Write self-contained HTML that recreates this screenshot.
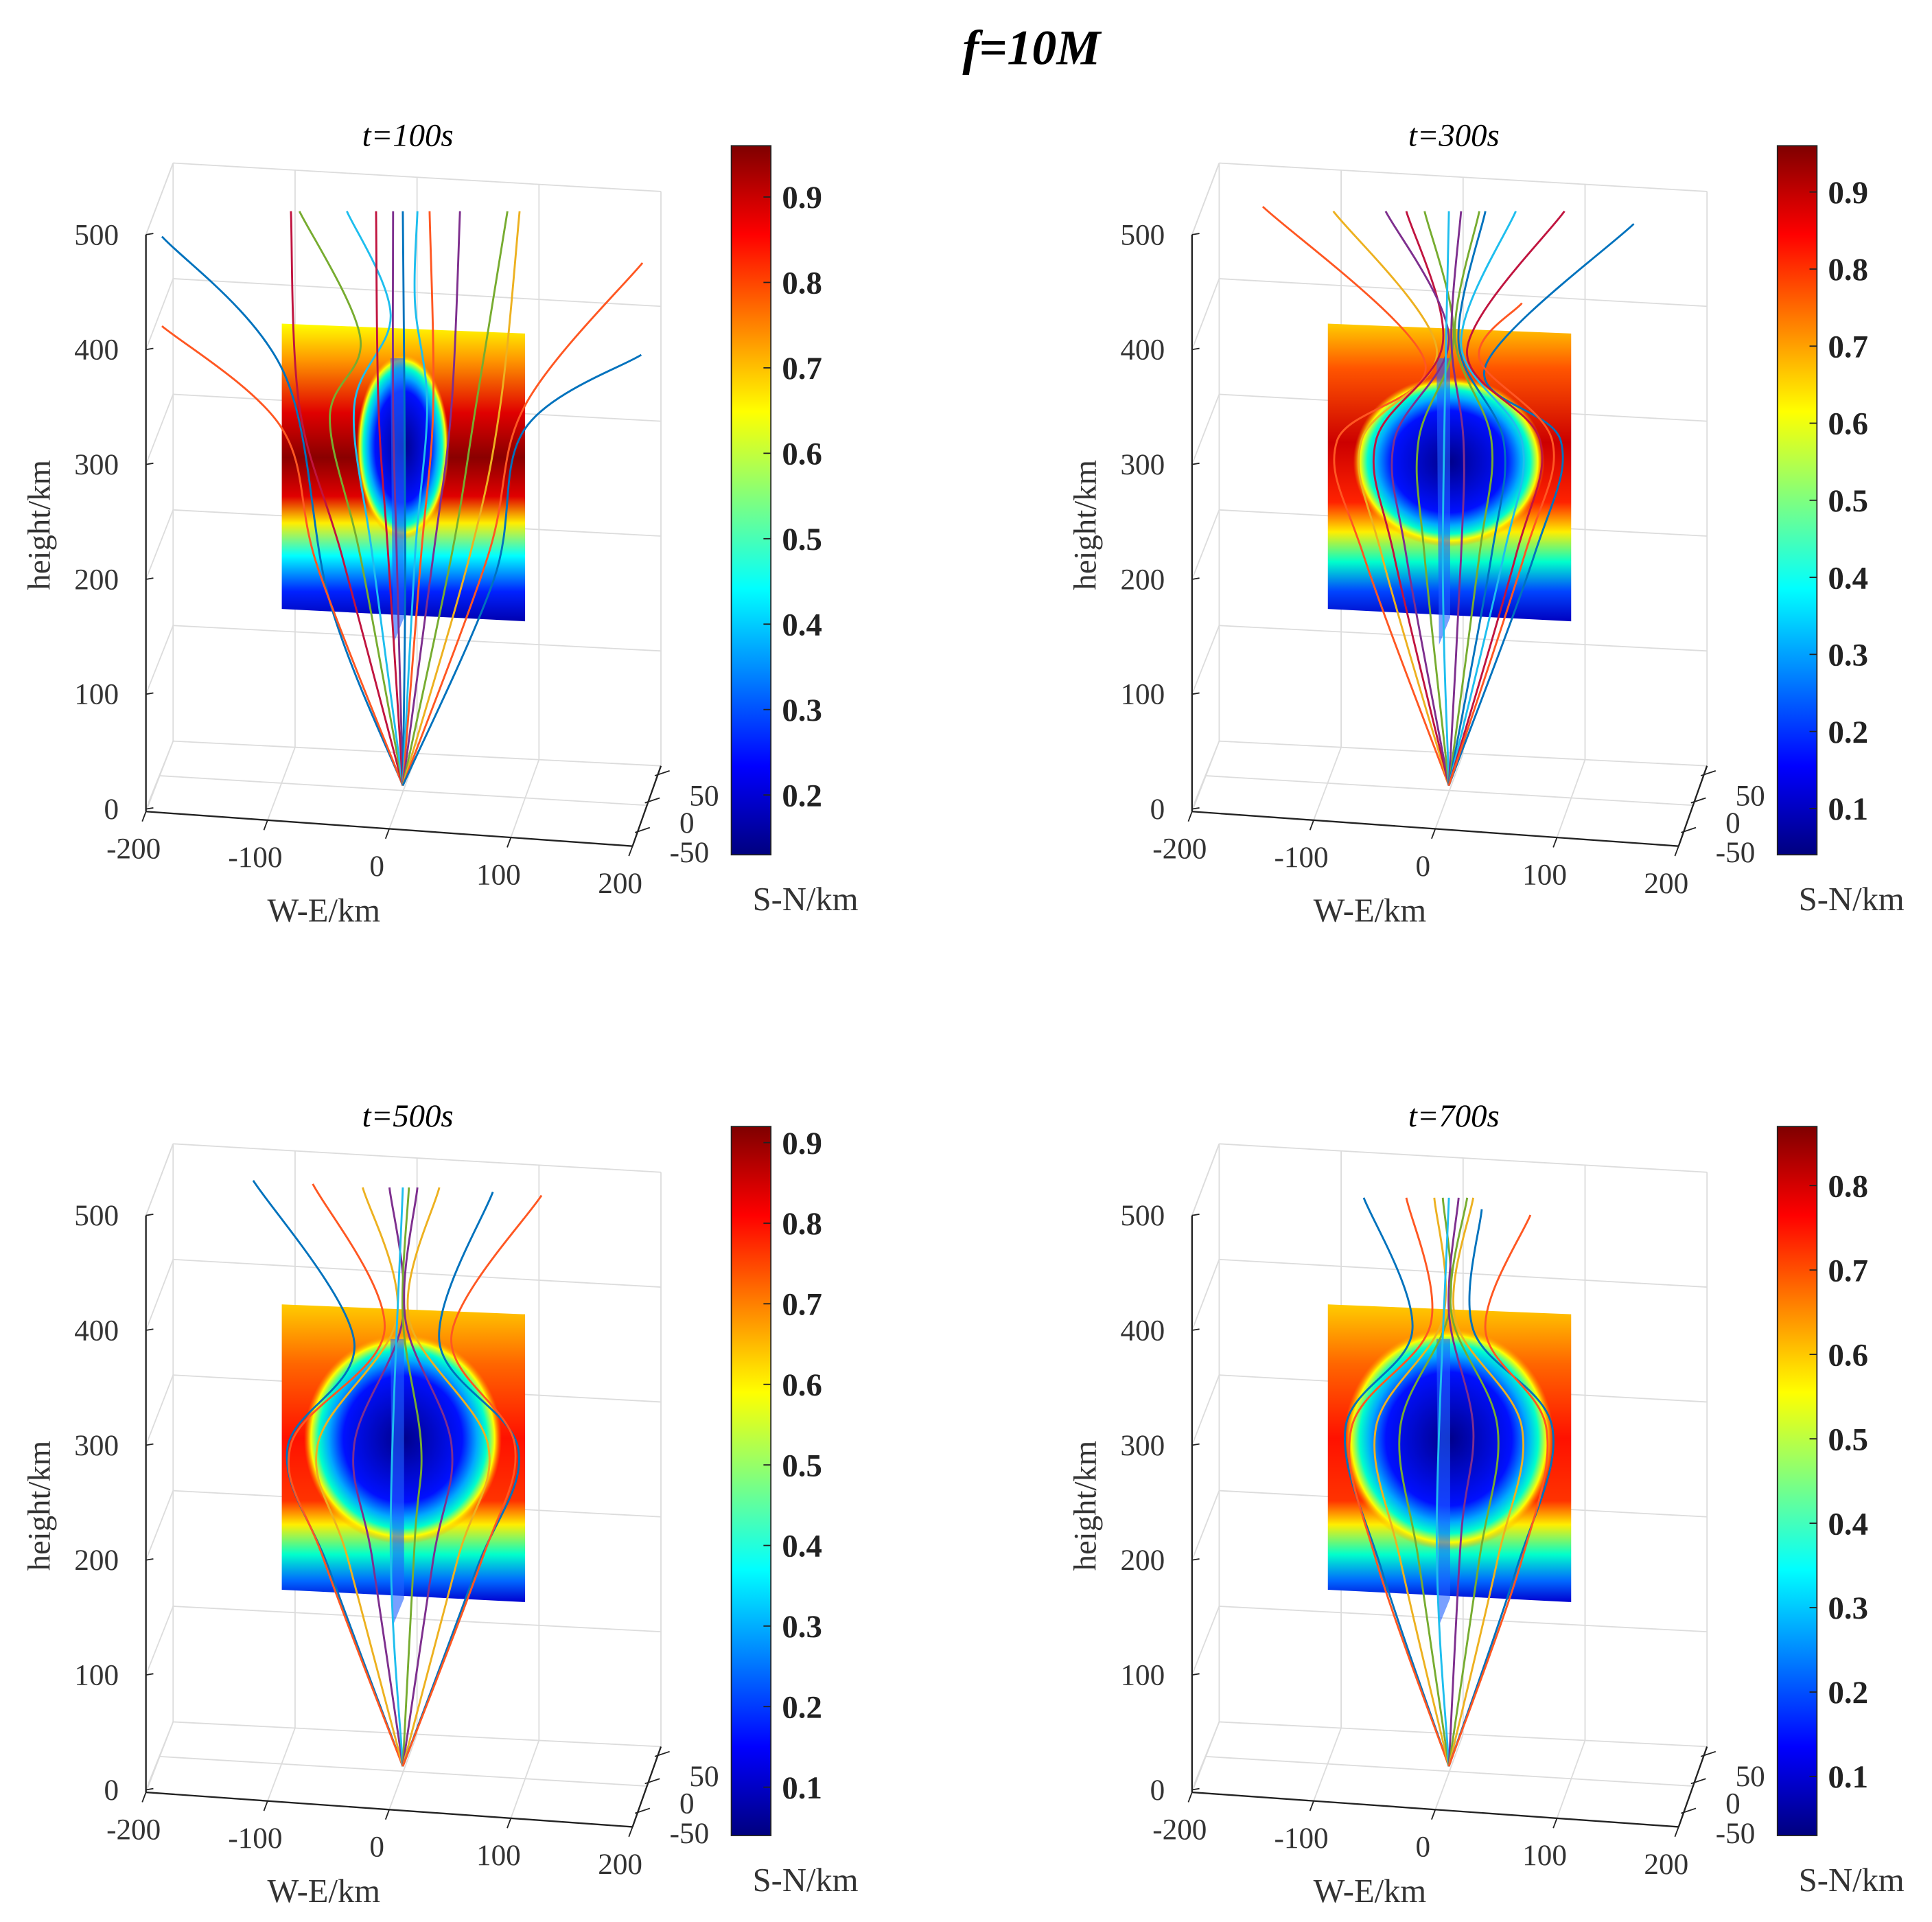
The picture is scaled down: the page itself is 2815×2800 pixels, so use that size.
<!DOCTYPE html>
<html><head><meta charset="utf-8">
<style>html,body{margin:0;padding:0;background:#fff}svg{display:block}</style></head>
<body>
<svg id="fig" xmlns="http://www.w3.org/2000/svg" width="2815" height="2800" viewBox="0 0 1564 1556" font-family="'Liberation Serif',serif">
<defs>
<linearGradient id="jet" x1="0" y1="1" x2="0" y2="0">
<stop offset="0" stop-color="#00007f"/><stop offset="0.125" stop-color="#0000ff"/><stop offset="0.375" stop-color="#00ffff"/><stop offset="0.5" stop-color="#7fff7f"/><stop offset="0.625" stop-color="#ffff00"/><stop offset="0.875" stop-color="#ff0000"/><stop offset="1" stop-color="#7f0000"/></linearGradient>
<linearGradient id="pl1" x1="0" y1="0" x2="0" y2="1">
<stop offset="0" stop-color="#ffff00"/><stop offset="0.12" stop-color="#ff9900"/><stop offset="0.3" stop-color="#e00000"/><stop offset="0.45" stop-color="#8a0000"/><stop offset="0.58" stop-color="#e00000"/><stop offset="0.67" stop-color="#ffee00"/><stop offset="0.78" stop-color="#00ffff"/><stop offset="0.9" stop-color="#0022ff"/><stop offset="1" stop-color="#0000b0"/></linearGradient>
<linearGradient id="pl2" x1="0" y1="0" x2="0" y2="1">
<stop offset="0" stop-color="#ffcc00"/><stop offset="0.15" stop-color="#ff5500"/><stop offset="0.4" stop-color="#cc0000"/><stop offset="0.6" stop-color="#ff2200"/><stop offset="0.7" stop-color="#ffee00"/><stop offset="0.8" stop-color="#00ffcc"/><stop offset="0.9" stop-color="#0044ff"/><stop offset="1" stop-color="#0000c0"/></linearGradient>
<linearGradient id="pl3" x1="0" y1="0" x2="0" y2="1">
<stop offset="0" stop-color="#ffcc00"/><stop offset="0.2" stop-color="#ff6600"/><stop offset="0.45" stop-color="#ff1100"/><stop offset="0.66" stop-color="#ff3300"/><stop offset="0.74" stop-color="#ffee00"/><stop offset="0.84" stop-color="#00ffcc"/><stop offset="0.93" stop-color="#0066ff"/><stop offset="1" stop-color="#0000d0"/></linearGradient>
<radialGradient id="hole"><stop offset="0" stop-color="#00008a"/><stop offset="0.6" stop-color="#0010ff"/><stop offset="0.75" stop-color="#00aaff"/><stop offset="0.85" stop-color="#00ffcc"/><stop offset="0.93" stop-color="#ffff00"/><stop offset="1" stop-color="#ff9900" stop-opacity="0"/></radialGradient>
</defs>
<text x="835" y="52" font-size="40" font-style="italic" font-weight="bold" text-anchor="middle">f=10M</text>
</svg>
<script>
const titles=["t=100s","t=300s","t=500s","t=700s"];
const offsets=[[0,0],[847,0],[0,794],[847,794]];
const heightTicks=[0,100,200,300,400,500];
const weTicks=[-200,-100,0,100,200];
const cbTicks1=[0.2,0.3,0.4,0.5,0.6,0.7,0.8,0.9];
const cbTicks2=[0.1,0.2,0.3,0.4,0.5,0.6,0.7,0.8,0.9];
const cbTicks3=[0.1,0.2,0.3,0.4,0.5,0.6,0.7,0.8,0.9];
const cbTicks4=[0.1,0.2,0.3,0.4,0.5,0.6,0.7,0.8];
const cbRanges=[[0.13,0.96],[0.04,0.96],[0.04,0.92],[0.03,0.87]];
const rayColors=["#0072BD","#FF5722","#EDB120","#7E2F8E","#77AC30","#1EBEEE","#C0143F"];
// rays: [colorIndex, points [[W-E km, height km],...]]
const rays1=[[0,[[0,0],[-60,160],[-98,360],[-198,478]]],[1,[[0,0],[-70,190],[-100,312],[-198,400]]],[6,[[0,0],[-50,200],[-85,330],[-92,500]]],[4,[[0,0],[-35,200],[-60,320],[-35,390],[-85,500]]],[5,[[0,0],[-25,200],[-40,330],[-10,410],[-46,500]]],[6,[[0,0],[-12,200],[-20,330],[-22,500]]],[3,[[0,0],[-5,200],[-8,330],[-8,500]]],[0,[[0,0],[2,200],[0,500]]],[5,[[0,0],[10,200],[20,330],[10,420],[12,500]]],[1,[[0,0],[15,200],[25,330],[22,500]]],[3,[[0,0],[25,200],[40,330],[47,500]]],[4,[[0,0],[40,200],[60,330],[86,500]]],[2,[[0,0],[55,200],[80,330],[96,500]]],[1,[[0,0],[70,200],[100,330],[197,455]]],[0,[[0,0],[75,180],[100,310],[196,375]]]];
const rays2=[[0,[[0,0],[70,200],[92,300],[30,365],[152,489]]],[1,[[0,0],[-70,200],[-92,300],[-20,370],[-153,504]]],[2,[[0,0],[-55,200],[-72,300],[-10,380],[-95,500]]],[6,[[0,0],[-45,200],[-60,300],[-5,385],[-35,500]]],[3,[[0,0],[-35,200],[-45,300],[0,390],[-52,500]]],[4,[[0,0],[-20,200],[-25,300],[4,390],[-20,500]]],[5,[[0,0],[-5,200],[0,500]]],[3,[[0,0],[10,200],[12,300],[2,390],[10,500]]],[4,[[0,0],[25,200],[35,300],[5,390],[25,500]]],[0,[[0,0],[35,200],[45,300],[8,385],[30,500]]],[5,[[0,0],[45,200],[60,300],[10,385],[55,500]]],[6,[[0,0],[55,200],[75,300],[15,380],[95,500]]],[1,[[0,0],[62,200],[85,300],[25,372],[60,420]]]];
const rays3=[[0,[[0,0],[-60,170],[-95,276],[-40,370],[-123,510]]],[1,[[0,0],[-65,180],[-92,280],[-15,380],[-74,507]]],[2,[[0,0],[-45,180],[-70,280],[-5,390],[-33,504]]],[3,[[0,0],[-25,180],[-40,280],[0,390],[-11,504]]],[5,[[0,0],[-10,200],[0,504]]],[4,[[0,0],[10,200],[15,280],[0,390],[5,504]]],[3,[[0,0],[25,180],[40,280],[2,390],[12,504]]],[2,[[0,0],[45,180],[70,280],[5,390],[30,504]]],[0,[[0,0],[60,170],[95,276],[30,370],[74,500]]],[1,[[0,0],[65,180],[92,280],[40,375],[114,497]]]];
const rays4=[[0,[[0,0],[-55,170],[-85,295],[-30,380],[-70,495]]],[1,[[0,0],[-60,180],[-80,295],[-15,385],[-35,495]]],[2,[[0,0],[-40,180],[-60,295],[-5,390],[-12,495]]],[4,[[0,0],[-25,180],[-40,295],[0,395],[-5,495]]],[5,[[0,0],[-10,200],[0,495]]],[3,[[0,0],[10,200],[20,295],[0,395],[8,495]]],[4,[[0,0],[25,180],[40,295],[2,395],[15,495]]],[2,[[0,0],[40,180],[60,295],[5,390],[20,495]]],[0,[[0,0],[55,170],[85,295],[20,380],[27,485]]],[1,[[0,0],[60,180],[80,295],[30,380],[67,480]]]];
const raysAll=[rays1,rays2,rays3,rays4];
const cbAll=[cbTicks1,cbTicks2,cbTicks3,cbTicks4];
const planeGrad=["pl1","pl2","pl3","pl3"];
const holes=[[0,295,30,60],[0,282,62,55],[0,285,64,68],[0,285,68,72]]; // km center x, height, rx px, ry px

const NS="http://www.w3.org/2000/svg";
const svg=document.getElementById('fig');
function mk(tag,attrs,parent){const e=document.createElementNS(NS,tag);for(const k in attrs)e.setAttribute(k,attrs[k]);(parent||svg).appendChild(e);return e;}
function catmull(pts){let d=`M${pts[0][0]},${pts[0][1]}`;for(let i=0;i<pts.length-1;i++){const p0=pts[Math.max(0,i-1)],p1=pts[i],p2=pts[i+1],p3=pts[Math.min(pts.length-1,i+2)];const c1=[p1[0]+(p2[0]-p0[0])/6,p1[1]+(p2[1]-p0[1])/6],c2=[p2[0]-(p3[0]-p1[0])/6,p2[1]-(p3[1]-p1[1])/6];d+=`C${c1[0]},${c1[1]} ${c2[0]},${c2[1]} ${p2[0]},${p2[1]}`;}return d;}

offsets.forEach((o,pi)=>{
  const [dx,dy]=o;
  const g=mk('g',{transform:`translate(${dx},${dy})`});
  
  
  const gray='#dcdcdc';
  const backY=h=>600-h*0.936, backYR=h=>620-h*0.93, frontY=h=>655-h*0.93;
  const backX=k=>140+(k+200)/400*395, frontX=k=>118+(k+200)/400*394;
  const rx=x=>326+x*0.985, ry=h=>636-h*0.93;
  heightTicks.forEach(h=>{
    const l=mk('line',{x1:140,y1:backY(h),x2:535,y2:backYR(h),stroke:gray,'stroke-width':1},g);
    
    mk('line',{x1:118,y1:frontY(h),x2:140,y2:backY(h),stroke:gray,'stroke-width':1},g);
  });
  weTicks.forEach(k=>{
    const t=(k+200)/400;
    mk('line',{x1:backX(k),y1:132+23*t,x2:backX(k),y2:600+20*t,stroke:gray,'stroke-width':1},g);
    mk('line',{x1:frontX(k),y1:657+28*t,x2:backX(k),y2:600+20*t,stroke:gray,'stroke-width':1},g);
  });
  mk('line',{x1:129,y1:628,x2:524,y2:652,stroke:gray},g);
  mk('line',{x1:118,y1:190,x2:140,y2:132,stroke:gray},g);
  const za=mk('line',{x1:118,y1:190,x2:118,y2:657,stroke:'#222','stroke-width':1.3},g);
  
  const xa=mk('line',{x1:118,y1:657,x2:512,y2:685,stroke:'#222','stroke-width':1.3},g);
  
  mk('line',{x1:512,y1:685,x2:535,y2:620,stroke:'#222','stroke-width':1.3},g);
  heightTicks.forEach(h=>{
    mk('line',{x1:118,y1:frontY(h),x2:124,y2:frontY(h)-1,stroke:'#222'},g);
    const t=mk('text',{x:96,y:frontY(h)+8,'font-size':24,'text-anchor':'end',fill:'#333'},g);
    t.textContent=h;
  });
  weTicks.forEach(k=>{
    const t=(k+200)/400;const x=frontX(k),y=657+28*t;
    mk('line',{x1:x,y1:y,x2:x-3,y2:y+8,stroke:'#222'},g);
    const tx=mk('text',{x:x-10,y:y+38,'font-size':24,'text-anchor':'middle',fill:'#333'},g);
    tx.textContent=k;
  });
  [[50,530,628],[0,522,650],[-50,514,674]].forEach(s=>{
    mk('line',{x1:s[1],y1:s[2],x2:s[1]+12,y2:s[2]-4,stroke:'#222'},g);
    const tx=mk('text',{x:s[1]+28,y:s[2]+24,'font-size':24,'text-anchor':'start',fill:'#333'},g);
    tx.textContent=s[0];
  });
  const pl=mk('polygon',{points:'228,262 425,270 425,503 228,493',fill:`url(#${planeGrad[pi]})`},g);
  
  const hl=holes[pi];
  const he=mk('ellipse',{cx:rx(hl[0]),cy:ry(hl[1]),rx:hl[2]*1.25,ry:hl[3]*1.25,fill:'url(#hole)'},g);
  
  const cp=mk('polygon',{points:'316,290 327,290 327,500 318,522',fill:'#2060ff',opacity:0.6},g);
  
  raysAll[pi].forEach((r,ri)=>{
    const pts=r[1].map(p=>[rx(p[0]),ry(p[1])]);
    const p=mk('path',{d:catmull(pts),fill:'none',stroke:rayColors[r[0]],'stroke-width':1.6},g);
    
  });
  const tt=mk('text',{x:330,y:118,'font-size':26,'font-style':'italic','text-anchor':'middle'},g);
  tt.textContent=titles[pi];
  const zl=mk('text',{x:0,y:0,'font-size':26,'text-anchor':'middle',fill:'#333',transform:'translate(40,425) rotate(-90)'},g);
  zl.textContent='height/km';
  const xl=mk('text',{x:262,y:746,'font-size':27,'text-anchor':'middle',fill:'#333'},g);
  xl.textContent='W-E/km';
  const cb=mk('rect',{x:592,y:118,width:32,height:574,fill:'url(#jet)',stroke:'#222','stroke-width':1},g);
  
  const [lo,hi]=cbRanges[pi];
  const cy=v=>692-(v-lo)/(hi-lo)*574;
  cbAll[pi].forEach(v=>{
    mk('line',{x1:618,y1:cy(v),x2:624,y2:cy(v),stroke:'#222'},g);
    const tx=mk('text',{x:633,y:cy(v)+9,'font-size':26,'font-weight':'bold',fill:'#222'},g);
    tx.textContent=v.toFixed(1);
  });
  const sl=mk('text',{x:652,y:737,'font-size':27,'text-anchor':'middle',fill:'#333'},g);
  sl.textContent='S-N/km';
});
</script>
</body></html>
